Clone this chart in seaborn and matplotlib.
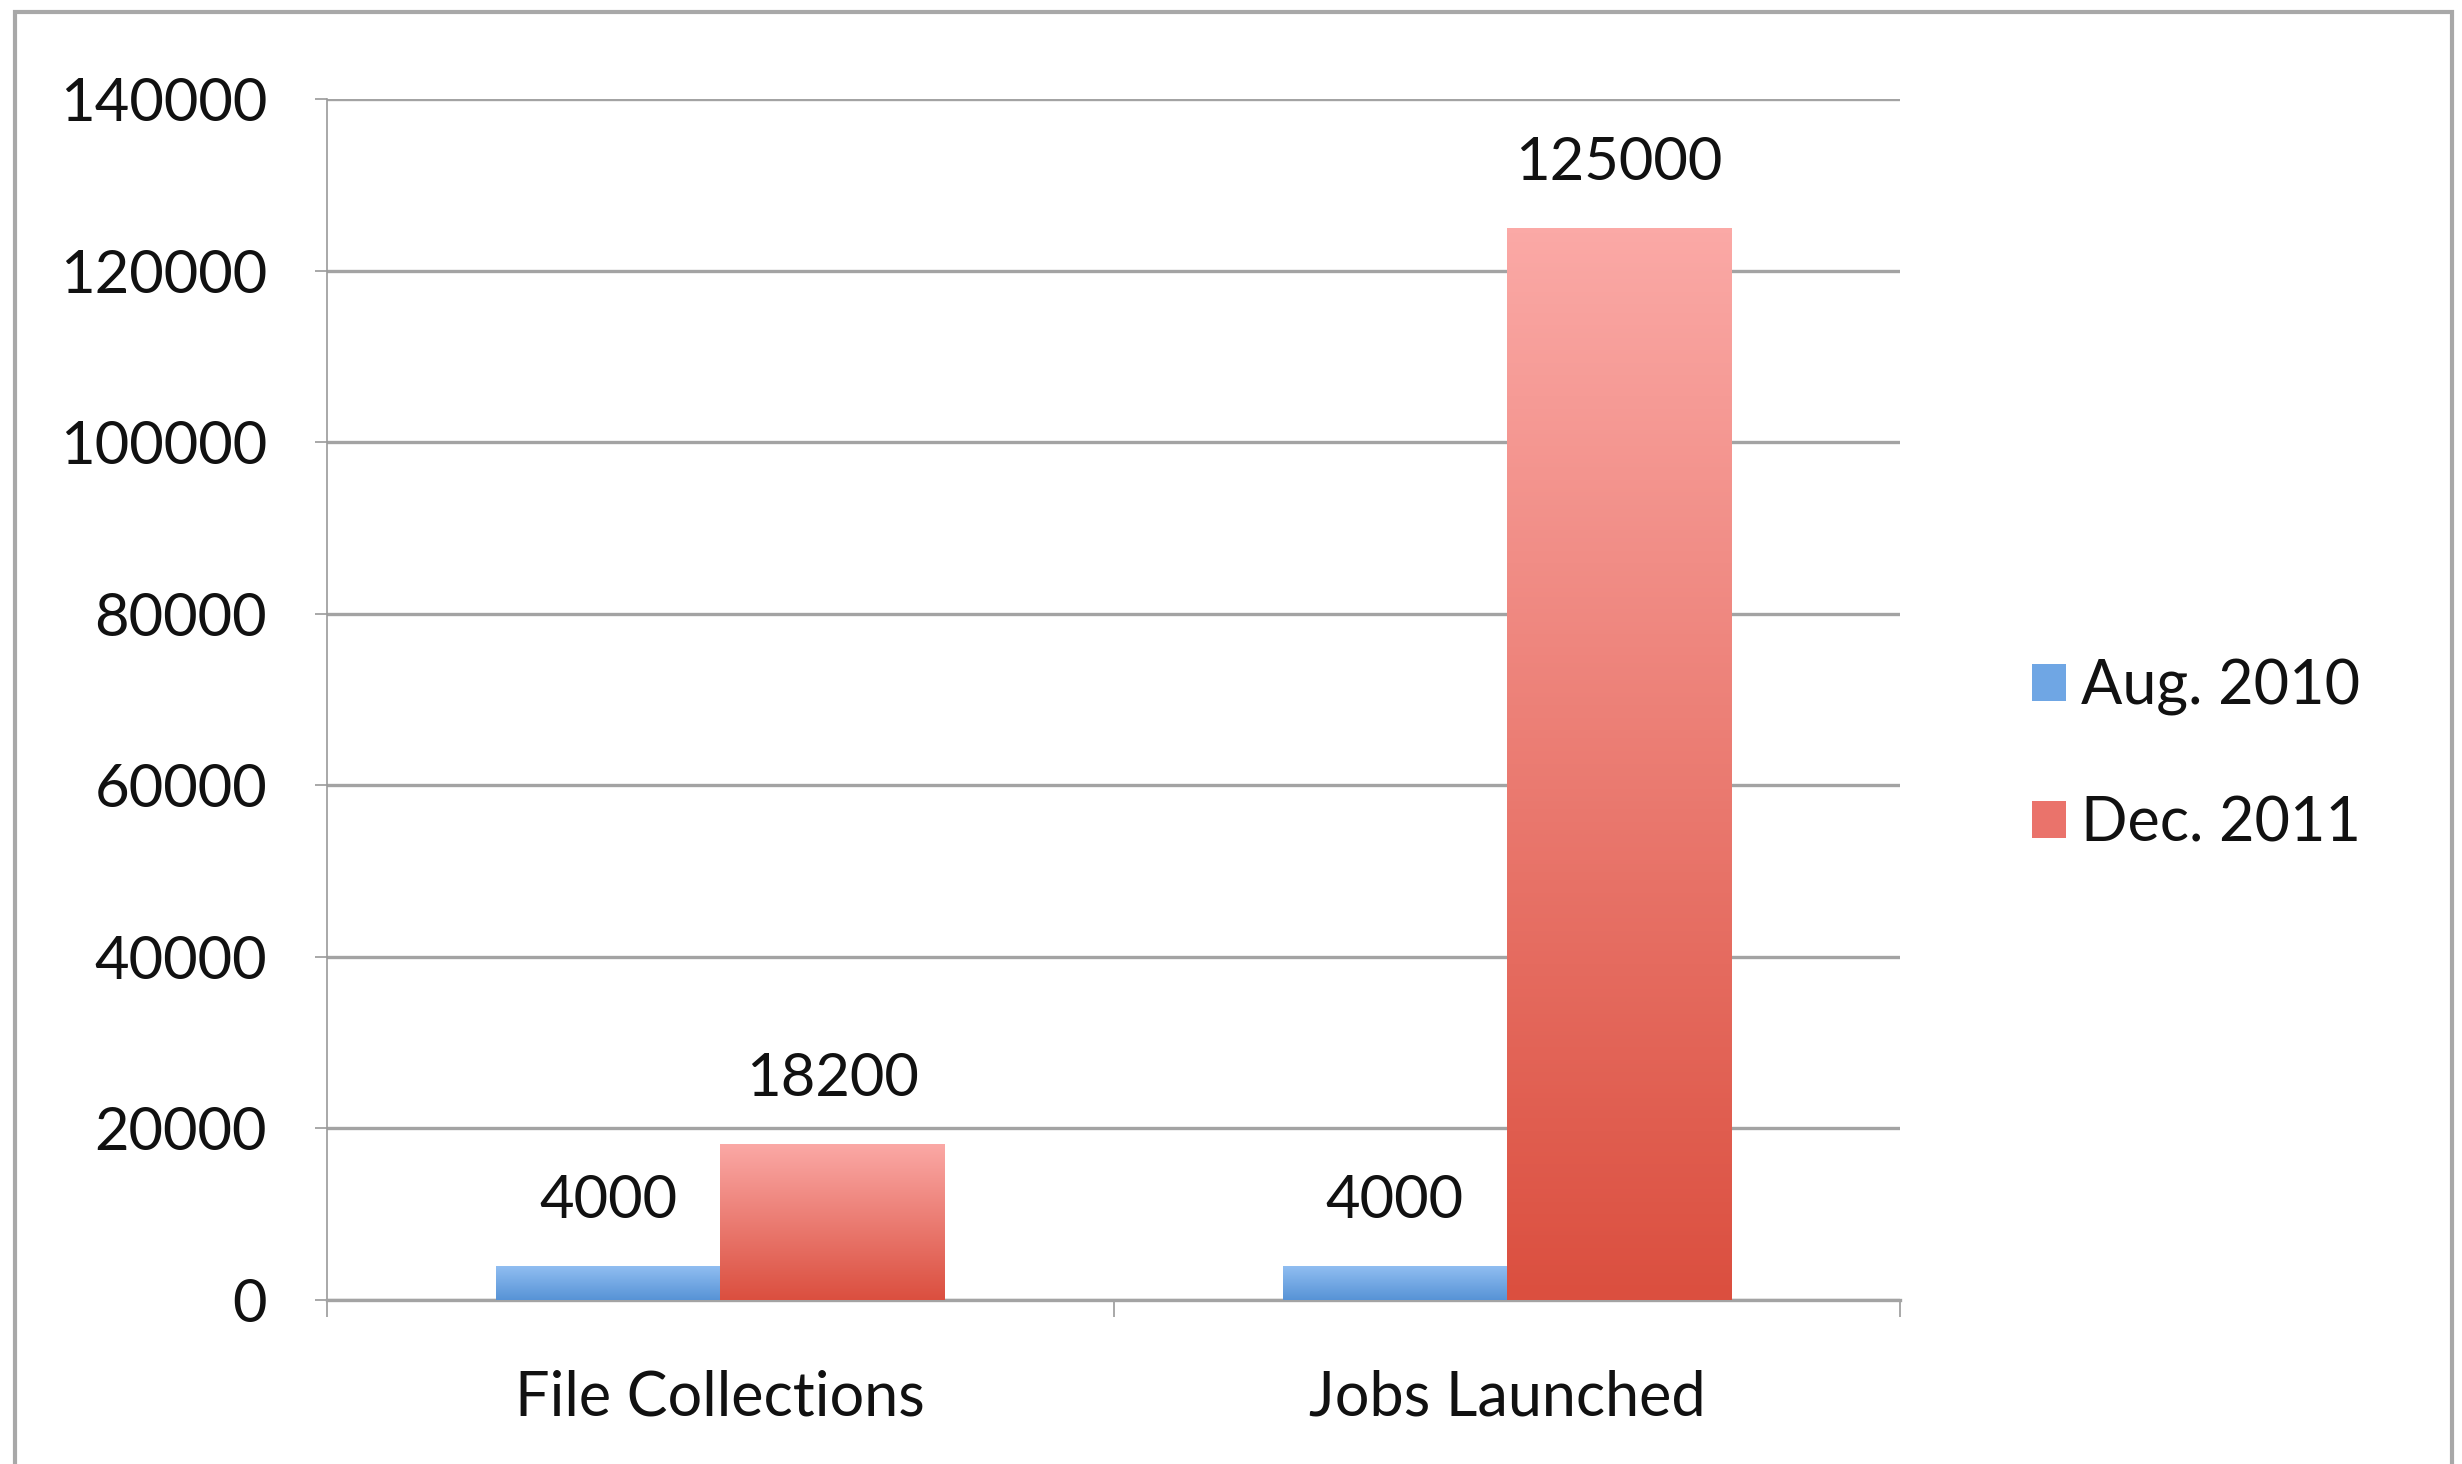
import numpy as np
import pandas as pd
import matplotlib
matplotlib.use("Agg")
import matplotlib.pyplot as plt
from matplotlib.patches import Rectangle, Patch
from matplotlib.colors import LinearSegmentedColormap
import seaborn as sns

categories = ["File Collections", "Jobs Launched"]
series_names = ["Aug. 2010", "Dec. 2011"]
aug_2010 = [4000, 4000]
dec_2011 = [18200, 125000]
y_ticks = [0, 20000, 40000, 60000, 80000, 100000, 120000, 140000]

df = pd.DataFrame({
    "category": categories * 2,
    "period": [series_names[0]] * 2 + [series_names[1]] * 2,
    "value": aug_2010 + dec_2011,
})

sns.set_theme(style="white")
plt.rcParams["font.family"] = ["Lato", "DejaVu Sans"]

# top and bottom colours of each bar's vertical gradient
gradients = {
    series_names[0]: ("#92bff2", "#5793d6"),
    series_names[1]: ("#fba9a6", "#db4f3f"),
}
palette = {k: v[1] for k, v in gradients.items()}

fig = plt.figure(figsize=(24.62, 14.64), dpi=100)
fig.patch.set_facecolor("white")
ax = fig.add_axes([0.1328, 0.112, 0.639, 0.8204])

sns.barplot(data=df, x="category", y="value", hue="period", order=categories,
            hue_order=series_names, palette=palette, width=0.57, gap=0,
            saturation=1, legend=False, ax=ax, zorder=3, linewidth=0)

ax.set_xlim(-0.5, 1.5)
ax.set_ylim(0, 140000)
ax.set_yticks(y_ticks)
ax.set_yticklabels([str(v) for v in y_ticks])
ax.set_xlabel("")
ax.set_ylabel("")

# gridlines and axes
ax.yaxis.grid(True, color="#a3a3a3", linewidth=2.4, zorder=1)
ax.xaxis.grid(False)
for side in ("top", "right"):
    ax.spines[side].set_visible(False)
ax.spines["left"].set_color("#9a9a9a")
ax.spines["left"].set_linewidth(1.2)
ax.spines["bottom"].set_color("#a3a3a3")
ax.spines["bottom"].set_linewidth(2.4)
ax.tick_params(axis="y", which="major", length=9, width=1.2, color="#9a9a9a",
               pad=34, labelsize=43, labelcolor="#111111", direction="out", left=True)
ax.tick_params(axis="x", which="major", length=0, pad=50, labelsize=44,
               labelcolor="#111111")
ax.set_xticks([-0.5, 0.5, 1.5], minor=True)
ax.tick_params(axis="x", which="minor", length=12, width=1.2, color="#9a9a9a",
               direction="out", bottom=True)

# vertical gradient fill for each bar, clipped to the bar's rectangle
grad = np.linspace(0, 1, 256).reshape(-1, 1)
series_values = [aug_2010, dec_2011]
for container, name, vals in zip(ax.containers, series_names, series_values):
    top_c, bot_c = gradients[name]
    cmap = LinearSegmentedColormap.from_list(name, [bot_c, top_c])
    for bar, v in zip(container, vals):
        x0 = bar.get_x()
        w = bar.get_width()
        h = bar.get_height()
        im = ax.imshow(grad, extent=(x0, x0 + w, 0, h), origin="lower",
                       cmap=cmap, aspect="auto", zorder=4, interpolation="bicubic")
        im.set_clip_path(bar)
        ax.text(x0 + w / 2, h + 4400, f"{v}", ha="center", va="bottom",
                fontsize=43, color="#111111", zorder=5)
ax.set_xlim(-0.5, 1.5)
ax.set_ylim(0, 140000)

# legend with square swatches
handles = [Patch(facecolor=palette[n], edgecolor="none") for n in series_names]
handles[0].set_facecolor("#6fa6e4")
handles[1].set_facecolor("#ea736b")
fig.legend(handles, series_names, loc="center left", bbox_to_anchor=(0.803, 0.484),
           frameon=False, fontsize=44, handlelength=0.55, handleheight=0.55,
           handletextpad=0.25, labelspacing=1.3, labelcolor="#111111")

# outer chart frame
fig.add_artist(Rectangle((15 / 2462, -0.05), (2452 - 15) / 2462, 1.05 - 12 / 1464,
                         transform=fig.transFigure, fill=False,
                         edgecolor="#a8a8a8", linewidth=3))

fig.savefig("out.png", dpi=100, facecolor="white")
